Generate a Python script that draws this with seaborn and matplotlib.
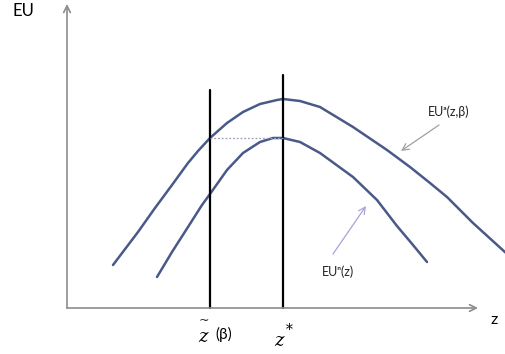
import matplotlib
matplotlib.use('Agg')

import numpy as np
import pandas as pd
import matplotlib.pyplot as plt
import seaborn as sns

upper_x = [113, 138, 155, 172, 188, 198, 210, 227, 243, 260, 277, 283, 300, 320,
	353, 387, 410, 430, 447, 473, 506]
upper_y = [265, 232, 208, 185, 163, 151, 138, 123, 112, 104, 100, 99, 101, 107,
	127, 150, 167, 183, 197, 223, 253]
lower_x = [157, 172, 188, 202, 210, 227, 243, 260, 273, 283, 300, 320, 353, 377,
	397, 413, 427]
lower_y = [277, 252, 227, 205, 194, 170, 153, 142, 138, 138, 142, 153, 177, 200,
	226, 245, 262]

z_tilde = 210
z_star = 283
axis_x0, axis_y0 = 67, 308

if __name__ == "__main__":
	sns.set_theme(style="white")
	plt.rcParams['font.family'] = ['Lato', 'DejaVu Sans']

	fig = plt.figure(figsize=(5.06, 3.54), dpi=100)
	ax = fig.add_axes([0, 0, 1, 1])
	ax.set_xlim(0, 506)
	ax.set_ylim(354, 0)
	ax.axis('off')

	df = pd.concat([
		pd.DataFrame({'x': upper_x, 'y': upper_y, 'curve': 'a'}),
		pd.DataFrame({'x': lower_x, 'y': lower_y, 'curve': 'n'}),
	])
	sns.lineplot(data=df, x='x', y='y', units='curve', estimator=None, sort=False,
		color='#4a5a88', linewidth=1.8, ax=ax)
	for line in ax.lines:
		line.set_solid_joinstyle('round')

	# axes arrows
	ax.annotate('', xy=(axis_x0, 4), xytext=(axis_x0, axis_y0),
		arrowprops=dict(arrowstyle='->', color='#8c8c8c', lw=1.2, shrinkA=0, shrinkB=0))
	ax.annotate('', xy=(478, axis_y0), xytext=(axis_x0, axis_y0),
		arrowprops=dict(arrowstyle='->', color='#8c8c8c', lw=1.2, shrinkA=0, shrinkB=0))

	# vertical lines at z~ and z*
	ax.plot([z_tilde, z_tilde], [90, axis_y0], color='black', lw=1.6)
	ax.plot([z_star, z_star], [75, axis_y0], color='black', lw=1.6)
	ax.plot([z_tilde, z_star], [138, 138], color='#9aa0b8', lw=0.9, ls=(0, (1.5, 1.5)))

	# pointer arrows
	ax.annotate('', xy=(401, 151), xytext=(439, 125),
		arrowprops=dict(arrowstyle='->', color='#a0a0a0', lw=0.9, shrinkA=0, shrinkB=0))
	ax.annotate('', xy=(366, 206), xytext=(333, 254),
		arrowprops=dict(arrowstyle='->', color='#a9a3d6', lw=0.9, shrinkA=0, shrinkB=0))

	ax.text(23, 11, 'EU', fontsize=12, ha='center', va='center', color='black')
	ax.text(494, 320, 'z', fontsize=11.5, ha='center', va='center', color='black')
	ax.text(449, 112, 'EUᵃ(z,β)', fontsize=9, ha='center', va='center', color='#222222')
	ax.text(338, 272, 'EUⁿ(z)', fontsize=9, ha='center', va='center', color='#222222')

	ax.text(203, 337, 'z', fontsize=13, ha='center', va='center', color='black',
		family='DejaVu Serif', style='italic')
	ax.text(204, 321, '~', fontsize=9, ha='center', va='center', color='black',
		family='DejaVu Serif')
	ax.text(224, 334, '(β)', fontsize=11, ha='center', va='center', color='black')
	ax.text(279, 341, 'z', fontsize=13, ha='center', va='center', color='black',
		family='DejaVu Serif', style='italic')
	ax.text(289, 330, '*', fontsize=10, ha='center', va='center', color='black',
		family='DejaVu Serif')

	fig.savefig('out.png', dpi=100)
